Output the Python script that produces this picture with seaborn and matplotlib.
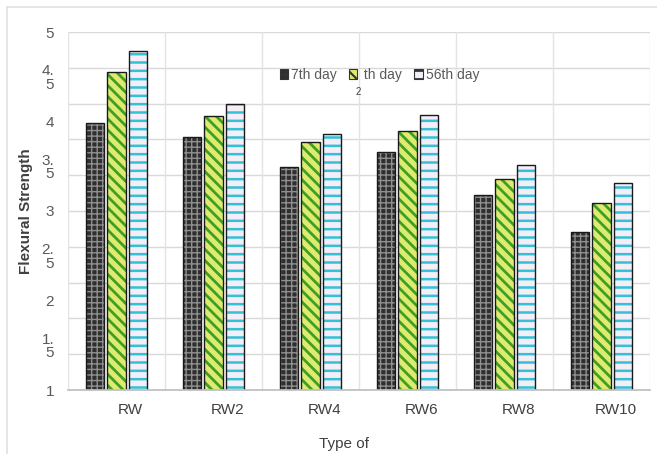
import numpy as np
import pandas as pd
import matplotlib
matplotlib.use("Agg")
import matplotlib.pyplot as plt
import matplotlib.transforms as mtransforms
from matplotlib.patches import Rectangle, Patch
import seaborn as sns

# valores
tipos = ["RW", "RW2", "RW4", "RW6", "RW8", "RW10"]
dia_7 = [3.98, 3.83, 3.49, 3.66, 3.18, 2.76]
dia_28 = [4.55, 4.06, 3.77, 3.89, 3.36, 3.09]
dia_56 = [4.79, 4.20, 3.86, 4.07, 3.51, 3.31]
series = ["7th day", "28th day", "56th day"]
etiquetas_leyenda = ["7th day", " th day", "56th day"]

marcas_y = [1, 1.5, 2, 2.5, 3, 3.5, 4, 4.5, 5]
textos_y = ["1", "1.\n5", "2", "2.\n5", "3", "3.\n5", "4", "4.\n5", "5"]

estilos = {
    "7th day": dict(face="#2f2f2f", hatch="+++", hcol="#8f8f8f", hlw=1.0),
    "28th day": dict(face="#dfeb70", hatch="\\\\\\", hcol="#3f9f25", hlw=2.0),
    "56th day": dict(face="#f3eef8", hatch="--", hcol="#35c0d4", hlw=1.8),
}

df = pd.DataFrame({"tipo": tipos * 3,
                   "dia": np.repeat(series, len(tipos)),
                   "valor": dia_7 + dia_28 + dia_56})

sns.set_theme(style="white")
plt.rcParams["font.family"] = ["Liberation Sans Narrow", "Liberation Sans", "DejaVu Sans"]
plt.rcParams["hatch.linewidth"] = 1.5

fig = plt.figure(figsize=(6.57, 4.54), dpi=100)
ax = fig.add_axes([68 / 657, 1 - 390 / 454, 582 / 657, 358 / 454])

paleta = {s: estilos[s]["face"] for s in series}
sns.barplot(data=df, x="tipo", y="valor", hue="dia", hue_order=series, order=tipos,
            palette=paleta, width=0.665, gap=0.12, ax=ax, legend=False,
            saturation=1, linewidth=0)

# relleno con tramas
for cont, s in zip(ax.containers, series):
    for p in cont:
        p.set_hatch(estilos[s]["hatch"])
        p.set_edgecolor(estilos[s]["hcol"])
        p.set_linewidth(0)
        if hasattr(p, "set_hatch_linewidth"):
            p.set_hatch_linewidth(estilos[s]["hlw"])

# contorno negro encima
sns.barplot(data=df, x="tipo", y="valor", hue="dia", hue_order=series, order=tipos,
            width=0.665, gap=0.12, ax=ax, legend=False, fill=False,
            linewidth=1.0, edgecolor="#1a1a1a")

ax.set_ylim(1, 5)
ax.set_xlim(-0.5, len(tipos) - 0.5)

# rejilla: 11 lineas horizontales y separadores entre categorias
for yv in np.linspace(1, 5, 11):
    ax.axhline(yv, color="#d9d9d9", lw=1, zorder=0)
for xv in np.arange(-0.5, len(tipos), 1):
    ax.axvline(xv, color="#e3e3e3", lw=1, zorder=0)

ax.set_yticks(marcas_y)
ax.set_yticklabels(textos_y, fontsize=11, color="#595959", linespacing=0.95)
ax.tick_params(axis="y", length=0, pad=10)
ax.tick_params(axis="x", length=0, pad=9, labelsize=11, labelcolor="#404040")
desplaza = mtransforms.ScaledTranslation(14 / 100, 0, fig.dpi_scale_trans)
for t in ax.get_xticklabels():
    t.set_transform(t.get_transform() + desplaza)

for lado in ax.spines.values():
    lado.set_visible(False)
ax.spines["bottom"].set_visible(True)
ax.spines["bottom"].set_color("#bfbfbf")

ax.set_ylabel("Flexural Strength", fontsize=11, fontweight="bold", color="#404040", labelpad=6)
ax.set_xlabel("Type of", fontsize=11, color="#404040", labelpad=8)
ax.xaxis.set_label_coords(0.475, -0.13)

manijas = [Patch(facecolor=estilos[s]["face"], hatch=estilos[s]["hatch"],
                 edgecolor="#333333", linewidth=0.8) for s in series]
ley = ax.legend(manijas, etiquetas_leyenda, loc="center", bbox_to_anchor=(0.535, 0.88),
                ncol=3, frameon=False, fontsize=10, handlelength=0.6, handleheight=0.8,
                handletextpad=0.2, columnspacing=0.9, labelcolor="#595959")
fig.text(358 / 657, 1 - 92 / 454, "2", fontsize=7, color="#404040", ha="center", va="center")

# marco exterior de la imagen
fig.patches.append(Rectangle((7 / 657, -0.01), 1.0, 1 - 7 / 454 + 0.01, transform=fig.transFigure,
                             fill=False, edgecolor="#e0e0e0", lw=1.2))

fig.savefig("out.png", dpi=100)
plt.close(fig)
